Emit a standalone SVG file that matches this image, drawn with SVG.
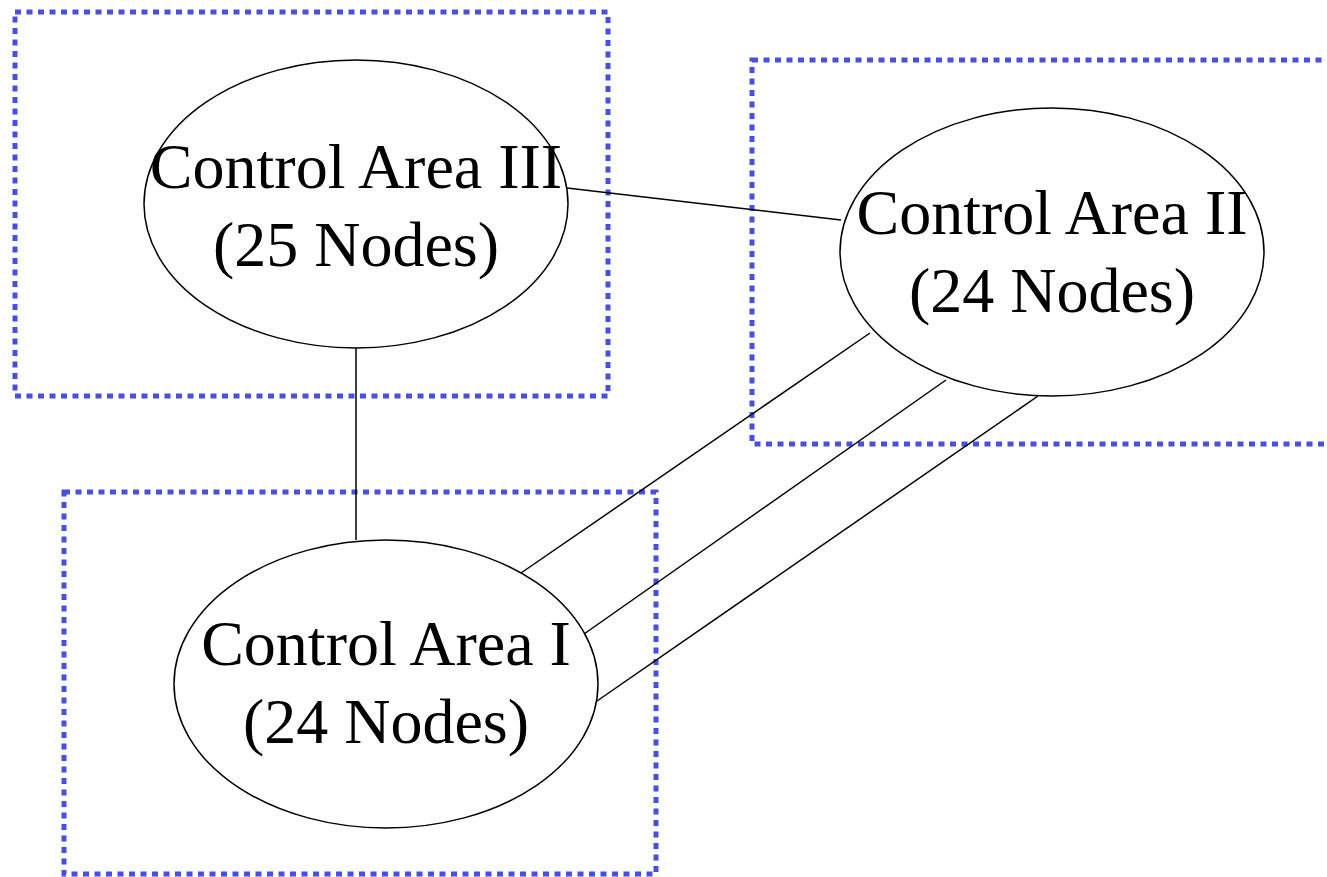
<svg xmlns="http://www.w3.org/2000/svg" width="1327" height="877" viewBox="0 0 1327 877">
<style>
.area{fill:none;stroke:#4650e0;stroke-width:5;stroke-dasharray:6 5.5}
.node ellipse{fill:#fff;stroke:#000;stroke-width:1.5}
.node text{font-family:"Liberation Serif","Times New Roman",serif;font-size:64px;fill:#000;text-anchor:middle}
.edge{stroke:#000;stroke-width:1.5;fill:none}
</style>
<rect width="1327" height="877" fill="#fff"/>
<g id="areas">
<rect class="area" x="15" y="12" width="593" height="384"/>
<rect class="area" x="752" y="60" width="600" height="384"/>
<rect class="area" x="64" y="492" width="592" height="382"/>
</g>
<g id="connectors">
<line class="edge" x1="567" y1="188" x2="841" y2="220"/>
<line class="edge" x1="356" y1="348" x2="356" y2="540"/>
<line class="edge" x1="870" y1="333" x2="521" y2="573"/>
<line class="edge" x1="946" y1="380" x2="584" y2="634"/>
<line class="edge" x1="1038" y1="396" x2="597" y2="701"/>
</g>
<g id="node-III" class="node">
<ellipse cx="356" cy="204" rx="212" ry="144" fill="none"/>
<text x="356" y="188">Control Area III</text>
<text x="356" y="266">(25 Nodes)</text>
</g>
<g id="node-II" class="node">
<ellipse cx="1052" cy="252" rx="212" ry="144" fill="none"/>
<text x="1052" y="234">Control Area II</text>
<text x="1052" y="312">(24 Nodes)</text>
</g>
<g id="node-I" class="node">
<ellipse cx="386" cy="684" rx="212" ry="144" fill="none"/>
<text x="386" y="665">Control Area I</text>
<text x="386" y="743">(24 Nodes)</text>
</g>
</svg>
